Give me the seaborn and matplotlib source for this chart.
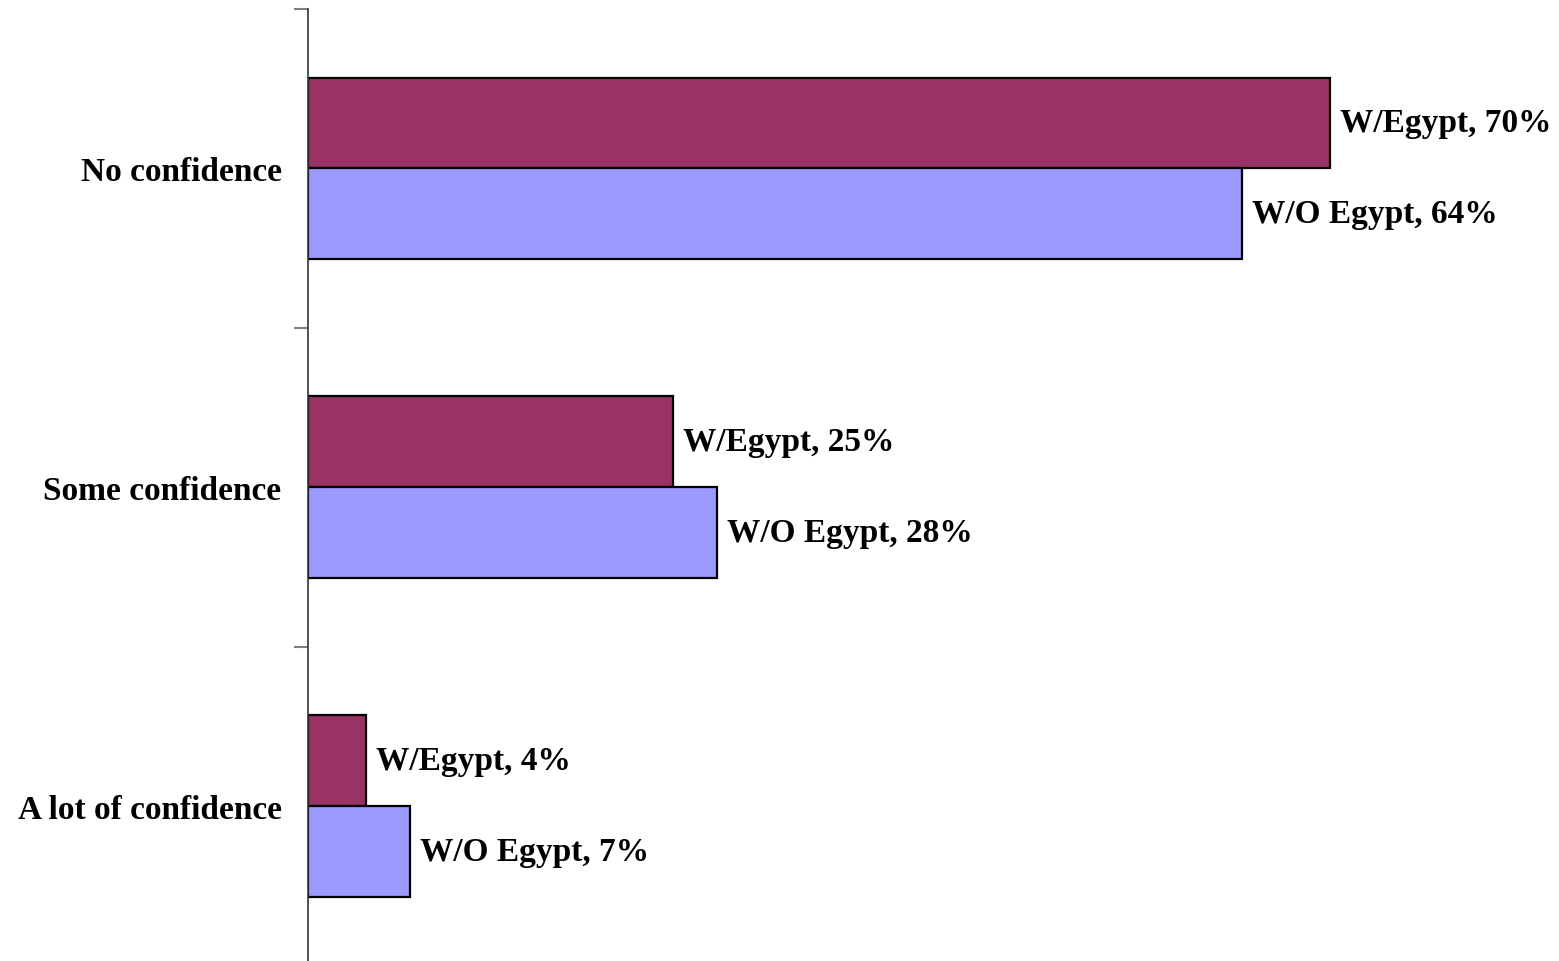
import numpy as np
import pandas as pd
import matplotlib
matplotlib.use("Agg")
import matplotlib.pyplot as plt
import seaborn as sns

categories = ["No confidence", "Some confidence", "A lot of confidence"]
series = ["W/Egypt", "W/O Egypt"]
with_egypt = [70, 25, 4]
without_egypt = [64, 28, 7]
colors = ["#993366", "#9999FF"]

df = pd.DataFrame({
    "category": categories * 2,
    "series": [series[0]] * 3 + [series[1]] * 3,
    "value": with_egypt + without_egypt,
})

sns.set_style("white")
plt.rcParams["font.family"] = ["Liberation Serif", "DejaVu Serif"]
plt.rcParams["font.weight"] = "bold"
plt.rcParams["text.color"] = "black"
plt.rcParams["ytick.labelcolor"] = "black"

fig = plt.figure(figsize=(15.59, 9.62), dpi=100)
ax = fig.add_axes([308 / 1559, 0, 1 - 308 / 1559, 952 / 962])

sns.barplot(data=df, x="value", y="category", hue="series", order=categories,
            hue_order=series, palette=colors, saturation=1, orient="h", width=0.57,
            edgecolor="black", linewidth=1.6, legend=False, ax=ax)

for cont, name in zip(ax.containers, series):
    vals = df[df["series"] == name]["value"].tolist()
    ax.bar_label(cont, labels=[f"{name}, {v}%" for v in vals], padding=7,
                 fontsize=24, fontweight="bold", color="black")

ax.set_xlim(0, (1559 - 308) / 14.6)
ax.set_ylim(2.486, -0.5)
ax.set_xlabel("")
ax.set_ylabel("")
ax.set_xticks([])
ax.set_yticks([0, 1, 2])
ax.set_yticklabels(categories, fontsize=24, fontweight="bold", color="black")
ax.set_yticks([-0.5, 0.5, 1.5], minor=True)
ax.tick_params(axis="y", which="major", length=0, pad=19)
ax.tick_params(axis="y", which="minor", left=True, length=10, width=1.5, color="#808080")

for s in ["top", "right", "bottom"]:
    ax.spines[s].set_visible(False)
ax.spines["left"].set_color("#333333")
ax.spines["left"].set_linewidth(1.2)

fig.savefig("out.png", dpi=100)
